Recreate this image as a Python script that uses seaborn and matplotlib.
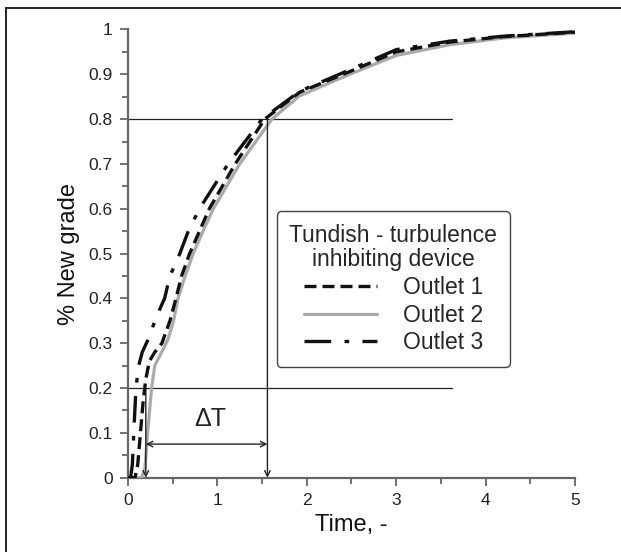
import numpy as np
import pandas as pd
import seaborn as sns
import matplotlib.pyplot as plt
from matplotlib.lines import Line2D

# values
t_out1 = [0, 0.08, 0.11, 0.14, 0.17, 0.20, 0.24, 0.30, 0.38, 0.47, 0.537, 0.60, 0.69, 0.80, 0.91, 1.20, 1.53, 1.92, 2.48, 3.0, 3.6, 4.2, 5.0]
y_out1 = [0, 0, 0.03, 0.10, 0.17, 0.22, 0.26, 0.28, 0.30, 0.35, 0.40, 0.45, 0.50, 0.55, 0.60, 0.70, 0.80, 0.86, 0.906, 0.95, 0.972, 0.984, 0.994]

t_out2 = [0, 0.15, 0.19, 0.22, 0.265, 0.30, 0.39, 0.45, 0.51, 0.56, 0.64, 0.73, 0.84, 0.955, 1.25, 1.61, 1.92, 2.48, 3.0, 3.6, 4.2, 5.0]
y_out2 = [0, 0, 0.02, 0.10, 0.20, 0.25, 0.285, 0.31, 0.35, 0.40, 0.45, 0.50, 0.55, 0.60, 0.70, 0.80, 0.852, 0.90, 0.942, 0.966, 0.981, 0.992]

t_out3 = [0, 0.03, 0.05, 0.07, 0.09, 0.12, 0.16, 0.23, 0.32, 0.41, 0.47, 0.58, 0.675, 0.80, 1.12, 1.50, 1.92, 2.48, 3.0, 3.6, 4.2, 5.0]
y_out3 = [0, 0, 0.03, 0.12, 0.20, 0.25, 0.28, 0.31, 0.36, 0.40, 0.45, 0.50, 0.55, 0.60, 0.70, 0.80, 0.862, 0.91, 0.955, 0.974, 0.985, 0.995]

labels = ['Outlet 1', 'Outlet 2', 'Outlet 3']
legend_title = 'Tundish - turbulence\ninhibiting device'

t_lo, t_hi = 0.2, 1.56   # delta T marks
y_lo, y_hi = 0.2, 0.8
hline_end = 3.62

sns.set_style('ticks')
plt.rcParams['font.family'] = ['Liberation Sans', 'DejaVu Sans']

fig = plt.figure(figsize=(6.21, 5.52), dpi=100)
ax = fig.add_axes([0.206, 0.1346, 0.72, 0.812])

df1 = pd.DataFrame({'t': t_out1, 'y': y_out1})
df2 = pd.DataFrame({'t': t_out2, 'y': y_out2})
df3 = pd.DataFrame({'t': t_out3, 'y': y_out3})

dash1 = (0, (3.6, 1.8))
dash3 = (0, (8, 4, 1.4, 4))

sns.lineplot(data=df2, x='t', y='y', ax=ax, color='#aaaaaa', lw=2.3, estimator=None, zorder=3)
sns.lineplot(data=df1, x='t', y='y', ax=ax, color='#111111', lw=2.4, estimator=None,
             linestyle=dash1, zorder=4)
sns.lineplot(data=df3, x='t', y='y', ax=ax, color='#111111', lw=2.4, estimator=None,
             linestyle=dash3, zorder=4)

# guide lines and arrows
ax.plot([0, hline_end], [y_hi, y_hi], color='#222222', lw=0.9, zorder=2)
ax.plot([0, hline_end], [y_lo, y_lo], color='#222222', lw=0.9, zorder=2)
arw = dict(arrowstyle='->', color='#222222', lw=1.0, shrinkA=0, shrinkB=0)
ax.annotate('', xy=(t_hi, 0), xytext=(t_hi, y_hi), arrowprops=arw)
ax.annotate('', xy=(t_lo, 0), xytext=(t_lo, y_lo), arrowprops=arw)
ax.annotate('', xy=(t_hi, 0.075), xytext=(t_lo, 0.075),
            arrowprops=dict(arrowstyle='<->', color='#222222', lw=1.0, shrinkA=0, shrinkB=0))
ax.text(0.92, 0.105, '\u0394T', ha='center', va='bottom', fontsize=18, color='#222222')

ax.set_xlim(0, 5)
ax.set_ylim(0, 1)
ax.set_xticks(np.arange(0, 5.1, 1))
ax.set_xticks(np.arange(0.5, 5, 1), minor=True)
ax.set_yticks(np.arange(0, 1.01, 0.1))
ax.set_yticks(np.arange(0.05, 1, 0.1), minor=True)
ax.set_xticklabels(['0', '1', '2', '3', '4', '5'])
ax.set_yticklabels(['0', '0.1', '0.2', '0.3', '0.4', '0.5', '0.6', '0.7', '0.8', '0.9', '1'])
ax.tick_params(which='major', length=6, width=1.3, color='#666666', labelsize=12.5,
               labelcolor='#222222', pad=5)
ax.tick_params(which='minor', length=4, width=1.3, color='#666666')
sns.despine(ax=ax)
for s in ['left', 'bottom']:
    ax.spines[s].set_color('#666666')
    ax.spines[s].set_linewidth(1.6)
ax.set_xlabel('Time, -', fontsize=17, color='#111111', labelpad=4)
ax.set_ylabel('% New grade', fontsize=17, color='#111111', labelpad=6)

handles = [Line2D([], [], color='#111111', lw=2.4, linestyle=dash1),
           Line2D([], [], color='#aaaaaa', lw=2.3),
           Line2D([], [], color='#111111', lw=2.4, linestyle=dash3)]
leg = ax.legend(handles, labels, title=legend_title, loc='upper left',
                bbox_to_anchor=(0.333, 0.595), borderaxespad=0, fontsize=16.5,
                title_fontsize=16.5, frameon=True, fancybox=True, handlelength=3.2,
                labelspacing=0.2, handletextpad=1.1, borderpad=0.55,
                alignment='center')
leg.get_title().set_multialignment('center')
leg.get_title().set_linespacing(1.1)
leg.get_frame().set_edgecolor('#444444')
leg.get_frame().set_linewidth(1.0)
leg.get_frame().set_alpha(1)

# frame fragment at top and left of the picture
fig.add_artist(Line2D([0.0097, 0.0097], [0, 0.9855], color='#111111', lw=1.3))
fig.add_artist(Line2D([0.0097, 1], [0.9855, 0.9855], color='#111111', lw=1.3))

fig.savefig('out.png', dpi=100)
